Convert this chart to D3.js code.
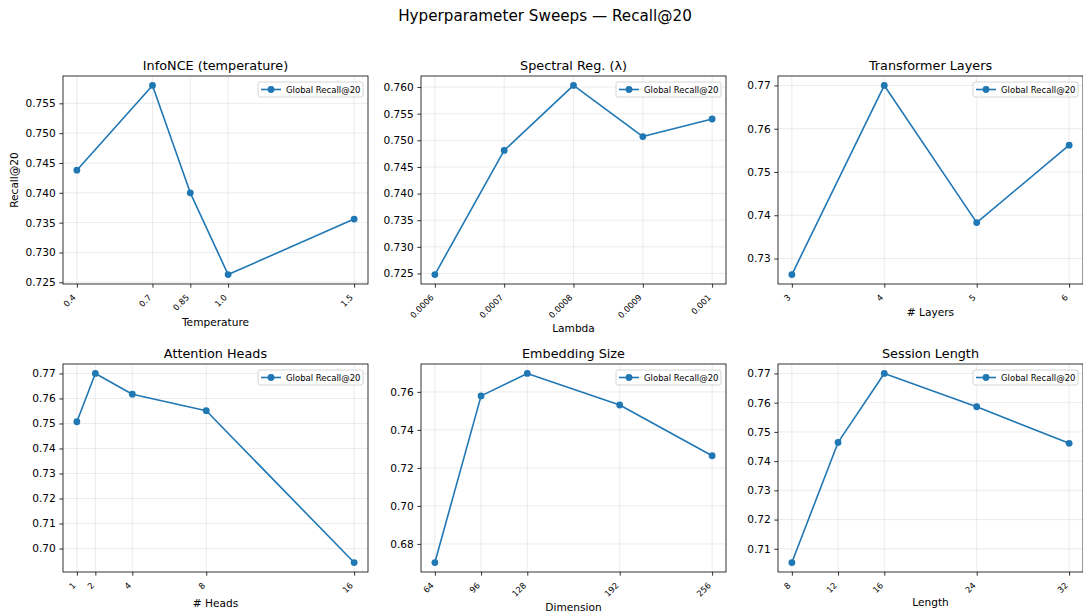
<!DOCTYPE html>
<html>
<head>
<meta charset="utf-8">
<script src="https://cdn.jsdelivr.net/npm/d3@7"></script>
<style>
  html, body { margin: 0; padding: 0; background: #fff; }
  svg { display: block; font-family: "DejaVu Sans", sans-serif; }
</style>
</head>
<body>
<svg id="chart" width="1083" height="615"></svg>
<script>
// ---------- DATA ----------
const suptitle = "Hyperparameter Sweeps — Recall@20";
const seriesName = "Global Recall@20";
const yAxisLabel = "Recall@20";

const panelTitles = ["InfoNCE (temperature)", "Spectral Reg. (λ)", "Transformer Layers",
                     "Attention Heads", "Embedding Size", "Session Length"];
const xAxisLabels = ["Temperature", "Lambda", "# Layers", "# Heads", "Dimension", "Length"];

const tempX = [0.4, 0.7, 0.85, 1.0, 1.5];
const tempY = [0.7438, 0.7580, 0.7400, 0.7263, 0.7356];
const tempXTicks = ["0.4", "0.7", "0.85", "1.0", "1.5"];
const tempYTicks = [0.725, 0.730, 0.735, 0.740, 0.745, 0.750, 0.755];

const lambdaX = [0.0006, 0.0007, 0.0008, 0.0009, 0.001];
const lambdaY = [0.7248, 0.7481, 0.7603, 0.7507, 0.7540];
const lambdaXTicks = ["0.0006", "0.0007", "0.0008", "0.0009", "0.001"];
const lambdaYTicks = [0.725, 0.730, 0.735, 0.740, 0.745, 0.750, 0.755, 0.760];

const layersX = [3, 4, 5, 6];
const layersY = [0.7263, 0.7700, 0.7383, 0.7562];
const layersXTicks = ["3", "4", "5", "6"];
const layersYTicks = [0.73, 0.74, 0.75, 0.76, 0.77];

const headsX = [1, 2, 4, 8, 16];
const headsY = [0.7507, 0.7700, 0.7617, 0.7551, 0.6944];
const headsXTicks = ["1", "2", "4", "8", "16"];
const headsYTicks = [0.70, 0.71, 0.72, 0.73, 0.74, 0.75, 0.76, 0.77];

const dimX = [64, 96, 128, 192, 256];
const dimY = [0.6702, 0.7579, 0.7697, 0.7531, 0.7264];
const dimXTicks = ["64", "96", "128", "192", "256"];
const dimYTicks = [0.68, 0.70, 0.72, 0.74, 0.76];

const lenX = [8, 12, 16, 24, 32];
const lenY = [0.7053, 0.7464, 0.7700, 0.7586, 0.7461];
const lenXTicks = ["8", "12", "16", "24", "32"];
const lenYTicks = [0.71, 0.72, 0.73, 0.74, 0.75, 0.76, 0.77];

// ---------- LAYOUT ----------
const W = 1083, H = 615;
const colLeft = [63, 421, 778];
const rowTop = [76, 364];
const axW = 305, axH = 208;
const xLabelOffset = [42, 48, 32, 35, 39, 34]; // baseline offset below axes bottom
const color = "#1f77b4";

const panels = [
  {x: tempX, y: tempY, xt: tempXTicks, yt: tempYTicks, yfmt: ".3f"},
  {x: lambdaX, y: lambdaY, xt: lambdaXTicks, yt: lambdaYTicks, yfmt: ".3f"},
  {x: layersX, y: layersY, xt: layersXTicks, yt: layersYTicks, yfmt: ".2f"},
  {x: headsX, y: headsY, xt: headsXTicks, yt: headsYTicks, yfmt: ".2f"},
  {x: dimX, y: dimY, xt: dimXTicks, yt: dimYTicks, yfmt: ".2f"},
  {x: lenX, y: lenY, xt: lenXTicks, yt: lenYTicks, yfmt: ".2f"},
];

const svg = d3.select("#chart");
svg.append("rect").attr("width", W).attr("height", H).attr("fill", "#fff");

svg.append("text")
  .attr("x", 545).attr("y", 21)
  .attr("text-anchor", "middle")
  .attr("font-size", 15.2)
  .attr("fill", "#000")
  .text(suptitle);

function padDomain(vals) {
  const mn = d3.min(vals), mx = d3.max(vals);
  const m = (mx - mn) * 0.05;
  return [mn - m, mx + m];
}

panels.forEach((p, i) => {
  const col = i % 3, row = Math.floor(i / 3);
  const L = colLeft[col], T = rowTop[row];
  const g = svg.append("g").attr("transform", `translate(${L},${T})`);

  const xs = d3.scaleLinear().domain(padDomain(p.x)).range([0, axW]);
  const ys = d3.scaleLinear().domain(padDomain(p.y)).range([axH, 0]);

  // grid
  const grid = g.append("g").attr("stroke", "#b0b0b0").attr("stroke-opacity", 0.3).attr("stroke-width", 0.8);
  p.yt.forEach(v => grid.append("line").attr("x1", 0).attr("x2", axW).attr("y1", ys(v)).attr("y2", ys(v)));
  p.x.forEach(v => grid.append("line").attr("y1", 0).attr("y2", axH).attr("x1", xs(v)).attr("x2", xs(v)));

  // y axis
  const yAxis = d3.axisLeft(ys).tickValues(p.yt).tickFormat(d3.format(p.yfmt)).tickSize(3.7).tickPadding(3.5);
  const yg = g.append("g").call(yAxis);
  yg.select(".domain").remove();
  yg.selectAll("line").attr("stroke", "#000").attr("stroke-width", 0.8);
  yg.selectAll("text").attr("font-size", 10.6).attr("fill", "#000").attr("font-family", "DejaVu Sans");

  // x axis
  const xAxis = d3.axisBottom(xs).tickValues(p.x).tickFormat((d, k) => p.xt[k]).tickSize(3.7).tickPadding(0);
  const xg = g.append("g").attr("transform", `translate(0,${axH})`).call(xAxis);
  xg.select(".domain").remove();
  xg.selectAll("line").attr("stroke", "#000").attr("stroke-width", 0.8);
  xg.selectAll("text")
    .attr("font-size", 8.4).attr("fill", "#000").attr("font-family", "DejaVu Sans")
    .attr("text-anchor", "end")
    .attr("dy", null)
    .attr("y", 0)
    .attr("transform", "translate(-1,14) rotate(-45)");

  // line + markers
  const pts = p.x.map((v, k) => [v, p.y[k]]);
  g.append("path")
    .attr("d", d3.line().x(d => xs(d[0])).y(d => ys(d[1]))(pts))
    .attr("fill", "none").attr("stroke", color).attr("stroke-width", 1.6)
    .attr("stroke-linejoin", "round");
  g.selectAll("circle.pt").data(pts).enter().append("circle")
    .attr("cx", d => xs(d[0])).attr("cy", d => ys(d[1])).attr("r", 3.4).attr("fill", color);

  // frame
  g.append("rect").attr("width", axW).attr("height", axH)
    .attr("fill", "none").attr("stroke", "#000").attr("stroke-width", 0.8);

  // title
  g.append("text").attr("x", axW / 2).attr("y", -6).attr("text-anchor", "middle")
    .attr("font-size", 12.8).attr("fill", "#000").text(panelTitles[i]);

  // x label
  g.append("text").attr("x", axW / 2).attr("y", axH + xLabelOffset[i]).attr("text-anchor", "middle")
    .attr("font-size", 10.6).attr("fill", "#000").text(xAxisLabels[i]);

  // legend
  const lw = 105, lh = 15;
  const lgx = axW - 5 - lw, lgy = 6;
  const lg = g.append("g").attr("transform", `translate(${lgx},${lgy})`);
  lg.append("rect").attr("width", lw).attr("height", lh).attr("rx", 2)
    .attr("fill", "#fff").attr("fill-opacity", 0.8).attr("stroke", "#cccccc").attr("stroke-width", 0.8);
  lg.append("line").attr("x1", 3).attr("x2", 23).attr("y1", lh / 2).attr("y2", lh / 2)
    .attr("stroke", color).attr("stroke-width", 1.6);
  lg.append("circle").attr("cx", 13).attr("cy", lh / 2).attr("r", 3.4).attr("fill", color);
  lg.append("text").attr("x", 28).attr("y", lh / 2 + 3).attr("font-size", 8.5).attr("fill", "#000").text(seriesName);
});

// y label on first panel
svg.append("text")
  .attr("transform", `translate(18,${rowTop[0] + axH / 2}) rotate(-90)`)
  .attr("text-anchor", "middle")
  .attr("font-size", 10.6).attr("fill", "#000")
  .text(yAxisLabel);
</script>
</body>
</html>
